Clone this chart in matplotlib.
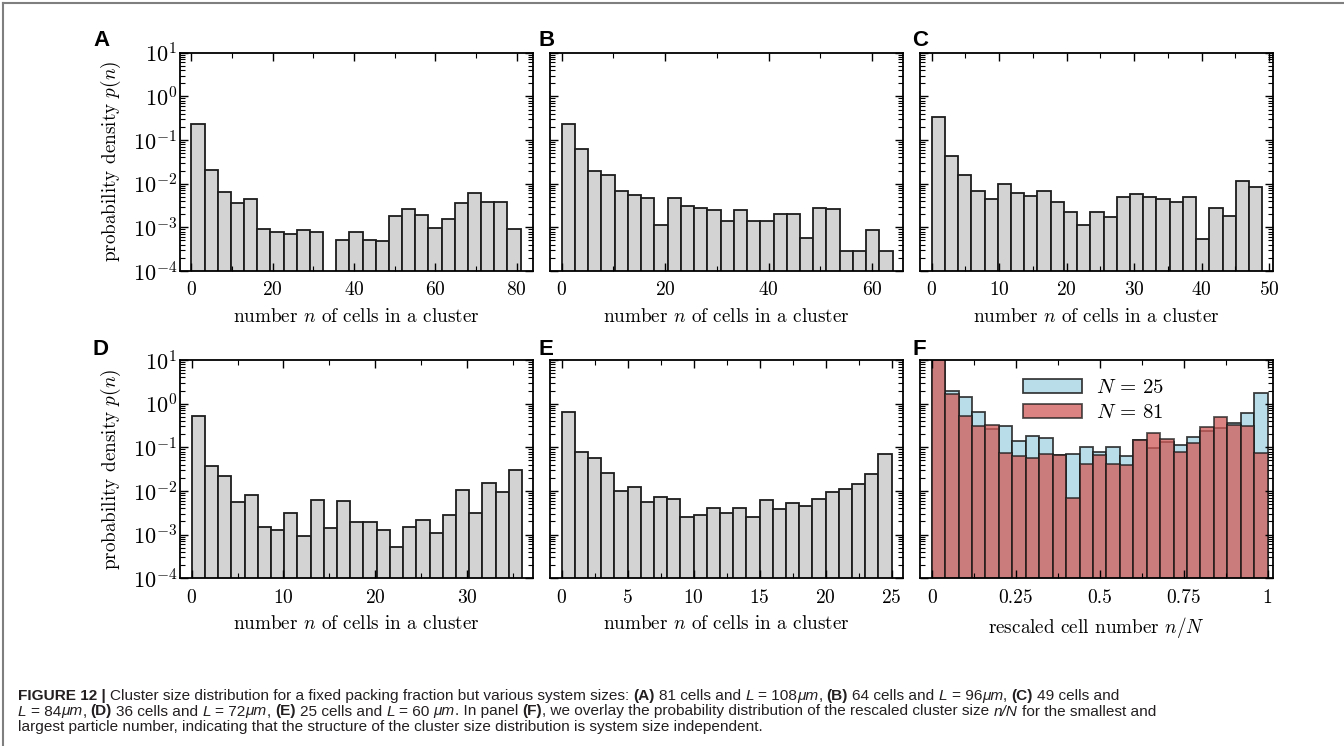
import numpy as np
import matplotlib
matplotlib.use('Agg')
import matplotlib.pyplot as plt
from matplotlib.ticker import MultipleLocator, LogLocator, NullFormatter
from matplotlib.lines import Line2D

plt.rcParams['font.family'] = 'serif'
plt.rcParams['font.serif'] = ['cmr10']
plt.rcParams['mathtext.fontset'] = 'cm'
plt.rcParams['axes.formatter.use_mathtext'] = True

# probability density p(n) per bin (25 bins over 0..N)
p_A = [0.232, 0.021, 0.0063, 0.0037, 0.0044, 0.00093, 0.00077, 0.0007, 0.00085, 0.0008,
       0.000084, 0.00051, 0.0008, 0.00051, 0.00049, 0.0018, 0.0026, 0.00195, 0.00095, 0.00156,
       0.0036, 0.006, 0.0039, 0.0038, 0.0009]
p_B = [0.237, 0.063, 0.0191, 0.0158, 0.0068, 0.0054, 0.0048, 0.00115, 0.0046, 0.0031,
       0.0028, 0.0025, 0.00142, 0.0025, 0.00142, 0.00142, 0.002, 0.002, 0.00057, 0.0028,
       0.0026, 0.00029, 0.00029, 0.00087, 0.00029]
p_C = [0.342, 0.0423, 0.0155, 0.0067, 0.0045, 0.0097, 0.0062, 0.0051, 0.0067, 0.0039,
       0.0023, 0.00113, 0.0023, 0.00173, 0.005, 0.0057, 0.005, 0.0045, 0.0039, 0.005,
       0.00055, 0.0028, 0.0018, 0.0115, 0.0085]
p_D = [0.522, 0.0374, 0.0225, 0.0056, 0.0081, 0.0015, 0.00128, 0.0032, 0.00093, 0.0062,
       0.00142, 0.0058, 0.0019, 0.0019, 0.0013, 0.00051, 0.0015, 0.00217, 0.00109, 0.0028,
       0.0104, 0.0032, 0.015, 0.0093, 0.031]
p_E = [0.634, 0.0767, 0.058, 0.0254, 0.0102, 0.0126, 0.0056, 0.0073, 0.0066, 0.0026,
       0.0028, 0.0041, 0.0032, 0.0041, 0.0025, 0.0061, 0.0039, 0.0052, 0.0046, 0.0067,
       0.0095, 0.0111, 0.0145, 0.024, 0.070]

# panel F: density of rescaled size n/N
pF_25 = [15.9, 1.9, 1.4, 0.66, 0.26, 0.31, 0.14, 0.18, 0.165, 0.065,
         0.07, 0.10, 0.08, 0.10, 0.063, 0.15, 0.098, 0.13, 0.115, 0.17,
         0.24, 0.28, 0.36, 0.6, 1.75]
pF_81 = [18.8, 1.7, 0.51, 0.30, 0.33, 0.075, 0.062, 0.057, 0.069, 0.065,
         0.0068, 0.041, 0.065, 0.041, 0.040, 0.146, 0.21, 0.158, 0.077, 0.126,
         0.29, 0.49, 0.32, 0.31, 0.073]

W, H = 1344, 746
fig = plt.figure(figsize=(W / 100, H / 100), dpi=100)

def add_ax(l, t, r, b):
    return fig.add_axes([l / W, 1 - b / H, (r - l) / W, (b - t) / H])

cols = [(180, 533), (550, 903), (920, 1273)]
rows = [(52.7, 271), (360, 578.3)]
letter_x = [93, 539, 912]
letter_y = [45.5, 355]

panels = [
    ('A', p_A, 81, (-2.8, 84.06), 20, 10),
    ('B', p_B, 64, (-2.26, 66.0), 20, 10),
    ('C', p_C, 49, (-1.74, 50.6), 10, 5),
    ('D', p_D, 36, (-1.27, 37.19), 10, 5),
    ('E', p_E, 25, (-0.88, 25.86), 5, 2.5),
]

letter_kw = dict(fontsize=16, fontweight='bold', family='Liberation Sans', va='baseline')
fs = 14
lfs = 13.8

def style_axis(ax, first_col):
    ax.set_yscale('log')
    ax.set_ylim(1e-4, 1e1)
    ax.yaxis.set_major_locator(LogLocator(base=10, numticks=10))
    ax.yaxis.set_minor_locator(LogLocator(base=10, subs=np.arange(2, 10), numticks=20))
    ax.yaxis.set_minor_formatter(NullFormatter())
    ax.tick_params(which='both', direction='in', top=True, right=True)
    ax.tick_params(axis='x', labelsize=fs, pad=7.5)
    ax.tick_params(axis='y', labelsize=fs + 2, pad=2)
    ax.tick_params(which='major', length=6, width=1.0)
    ax.tick_params(which='minor', length=3.5, width=0.8)
    for s in ax.spines.values():
        s.set_linewidth(1.3)
    if first_col:
        ax.set_ylabel(r'probability density $p(n)$', fontsize=lfs, labelpad=7)
    else:
        ax.tick_params(labelleft=False)

for i, (lab, vals, N, xl, maj, mnr) in enumerate(panels):
    r, c = divmod(i, 3)
    ax = add_ax(cols[c][0], rows[r][0], cols[c][1], rows[r][1])
    style_axis(ax, c == 0)
    edges = np.linspace(0, N, len(vals) + 1)
    ax.bar(edges[:-1], vals, width=np.diff(edges), align='edge',
           color='#d3d3d3', edgecolor='#1c1c1c', linewidth=1.3)
    ax.set_xlim(*xl)
    ax.xaxis.set_major_locator(MultipleLocator(maj))
    ax.xaxis.set_minor_locator(MultipleLocator(mnr))
    ax.set_xlabel(r'number $n$ of cells in a cluster', fontsize=lfs, labelpad=6)
    fig.text(letter_x[c] / W, 1 - letter_y[r] / H, lab, **letter_kw)

# panel F
ax = add_ax(cols[2][0], rows[1][0], cols[2][1], rows[1][1])
style_axis(ax, False)
edges = np.linspace(0, 1, 26)
ax.bar(edges[:-1], pF_25, width=np.diff(edges), align='edge', color='#add8e6',
       alpha=0.85, edgecolor='#1c1c1c', linewidth=1.3, label=r'$N\,=\,25$')
ax.bar(edges[:-1], pF_81, width=np.diff(edges), align='edge', color='#d05a58',
       alpha=0.75, edgecolor='#1c1c1c', linewidth=1.3, label=r'$N\,=\,81$')
ax.set_xlim(-0.035, 1.016)
ax.set_xticks([0, 0.25, 0.5, 0.75, 1])
ax.set_xticklabels(['0', '0.25', '0.5', '0.75', '1'])
ax.xaxis.set_minor_locator(MultipleLocator(0.125))
ax.set_xlabel(r'rescaled cell number $n/N$', fontsize=lfs, labelpad=6)
ax.legend(loc='upper left', bbox_to_anchor=(0.24, 1.0), frameon=False,
          fontsize=15, handlelength=2.8, handletextpad=0.7, labelspacing=0.3)
fig.text(letter_x[2] / W, 1 - letter_y[1] / H, 'F', **letter_kw)

# frame around the figure
fig.add_artist(Line2D([3 / W, 3 / W], [0, 1 - 3 / H], color='#7f7f7f', lw=1.5))
fig.add_artist(Line2D([3 / W, 1], [1 - 3 / H, 1 - 3 / H], color='#7f7f7f', lw=1.5))

# caption
cap_font = 'Liberation Sans'
cap_size = 11.1
renderer = fig.canvas.get_renderer()

def text_width(s, **kw):
    t = fig.text(0, 0, s, fontsize=cap_size, family=cap_font, **kw)
    w = t.get_window_extent(renderer).width
    t.remove()
    return w

space_w = text_width('a a') - text_width('aa')

def caption_line(y_px, parts):
    x = 18.0
    for s, kind in parts:
        kw = {}
        if kind == 'b':
            kw['fontweight'] = 'bold'
        elif kind == 'i':
            kw['fontstyle'] = 'italic'
        lead = len(s) - len(s.lstrip(' '))
        trail = len(s) - len(s.rstrip(' '))
        x += lead * space_w
        core = s.strip(' ')
        t = fig.text(x / W, 1 - y_px / H, core, fontsize=cap_size, family=cap_font,
                     va='baseline', ha='left', color='#231f20', **kw)
        x += t.get_window_extent(renderer).width + trail * space_w

caption_line(700, [
    ('FIGURE 12 | ', 'b'),
    ('Cluster size distribution for a fixed packing fraction but various system sizes: ', 'r'),
    ('(A)', 'b'), (' 81 cells and ', 'r'), ('L', 'i'), (' = 108', 'r'), ('\u03bcm', 'i'),
    (', ', 'r'), ('(B)', 'b'), (' 64 cells and ', 'r'), ('L', 'i'), (' = 96', 'r'),
    ('\u03bcm', 'i'), (', ', 'r'), ('(C)', 'b'), (' 49 cells and', 'r'),
])
caption_line(715.5, [
    ('L', 'i'), (' = 84', 'r'), ('\u03bcm', 'i'), (', ', 'r'), ('(D)', 'b'),
    (' 36 cells and ', 'r'), ('L', 'i'), (' = 72', 'r'), ('\u03bcm', 'i'), (', ', 'r'),
    ('(E)', 'b'), (' 25 cells and ', 'r'), ('L', 'i'), (' = 60 ', 'r'), ('\u03bcm', 'i'),
    ('. In panel ', 'r'), ('(F)', 'b'),
    (', we overlay the probability distribution of the rescaled cluster size ', 'r'),
    ('n/N', 'i'), (' for the smallest and', 'r'),
])
caption_line(731, [
    ('largest particle number, indicating that the structure of the cluster size '
     'distribution is system size independent.', 'r'),
])

fig.savefig('out.png', dpi=100)
